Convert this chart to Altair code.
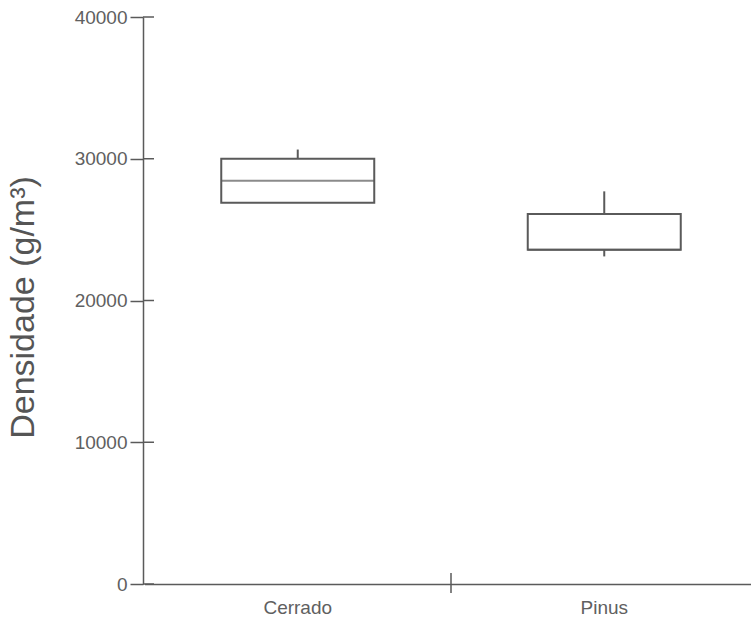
import altair as alt
import pandas as pd

# Box-plot summary per site (g/m³)
categories = ["Cerrado", "Pinus"]
lower = [26900, 23110]
q1 = [26900, 23580]
median = [28450, 23580]
q3 = [30000, 26100]
upper = [30650, 27700]

y_ticks = [0, 10000, 20000, 30000, 40000]

df = pd.DataFrame({
    "site": categories,
    "lower": lower,
    "q1": q1,
    "median": median,
    "q3": q3,
    "upper": upper,
})
ticks_df = pd.DataFrame({"v": y_ticks})

W, H = 608, 567
LINE = "#5a5a5a"
TEXT = "#606060"
FONT = "Liberation Sans"

# the x band scale runs a little past the right edge of the view
x_scale = alt.Scale(domain=categories, paddingInner=0, paddingOuter=0, range=[1.5, 614.5])
y_scale = alt.Scale(domain=[0, 40000], nice=False, zero=True)

x_enc = alt.X(
    "site:N",
    scale=x_scale,
    title=None,
    axis=alt.Axis(
        ticks=False,
        labelAngle=0,
        labelFontSize=19,
        labelColor=TEXT,
        labelFont=FONT,
        labelPadding=14,
        domainColor=LINE,
        domainWidth=1.5,
    ),
)
y_axis = alt.Axis(
    values=y_ticks,
    format="d",
    grid=False,
    tickSize=13,
    tickColor=LINE,
    tickWidth=1.5,
    domainColor=LINE,
    domainWidth=1.5,
    labelFontSize=19,
    labelColor=TEXT,
    labelFont=FONT,
    labelPadding=3,
    title="Densidade (g/m³)",
    titleFontSize=34,
    titleFont=FONT,
    titleFontWeight="normal",
    titleColor="#555555",
    titleX=-110,
    titleY=290,
    titleBaseline="alphabetic",
)

base = alt.Chart(df)

upper_whisker = base.mark_rule(color=LINE, strokeWidth=2).encode(
    x=x_enc,
    y=alt.Y("q3:Q", scale=y_scale, axis=y_axis),
    y2="upper:Q",
)
lower_whisker = base.mark_rule(color=LINE, strokeWidth=2).encode(
    x=x_enc,
    y=alt.Y("lower:Q", scale=y_scale),
    y2="q1:Q",
)
box = base.mark_bar(
    size=153, fill="white", stroke=LINE, strokeWidth=2
).encode(
    x=x_enc,
    y=alt.Y("q1:Q", scale=y_scale),
    y2="q3:Q",
)
mid = base.mark_tick(size=153, thickness=2, color=LINE).encode(
    x=x_enc,
    y=alt.Y("median:Q", scale=y_scale),
)

# inner half of the y-axis ticks, so they cross the axis line
y_tick_inner = alt.Chart(ticks_df).mark_rule(color=LINE, strokeWidth=1.5).encode(
    y=alt.Y("v:Q", scale=y_scale),
    x=alt.value(0),
    x2=alt.value(11),
)

# crossing tick on the x axis at the boundary between the two sites
x_sep = alt.Chart(pd.DataFrame({"site": categories[1:]})).mark_rule(
    color=LINE, strokeWidth=1.5
).encode(
    x=alt.X("site:N", scale=x_scale, bandPosition=0),
    y=alt.value(H - 11),
    y2=alt.value(H + 9),
)

chart = (
    alt.layer(upper_whisker, lower_whisker, box, mid, y_tick_inner, x_sep)
    .properties(
        width=W,
        height=H,
        autosize=alt.AutoSizeParams(type="none"),
        padding={"left": 143, "top": 17, "right": 0, "bottom": 39},
        background="white",
    )
    .configure_view(stroke=None)
)

chart.save("out.html", embed_options={"renderer": "svg", "actions": False})
